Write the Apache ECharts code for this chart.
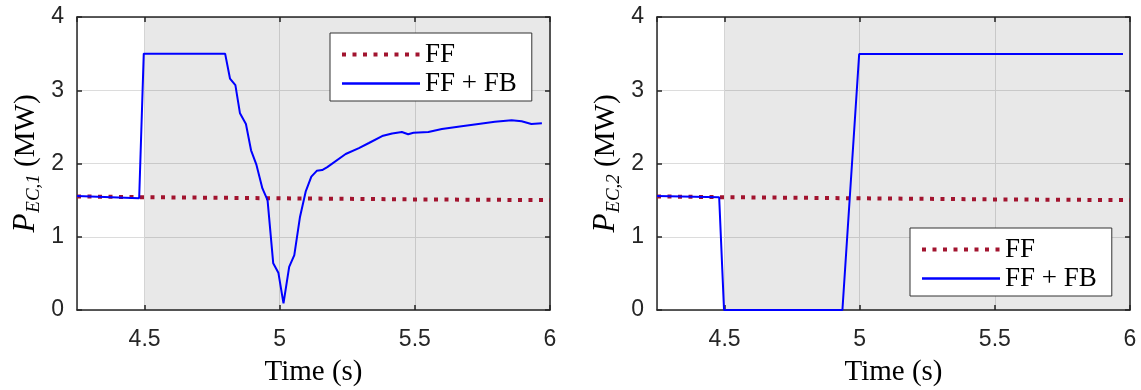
<!DOCTYPE html>
<html>
<head>
<meta charset="utf-8">
<script src="https://cdn.jsdelivr.net/npm/echarts@6/dist/echarts.min.js"></script>
<style>
html, body { margin: 0; padding: 0; background: #fff; }
#chart { width: 1141px; height: 390px; }
</style>
</head>
<body>
<div id="chart"></div>
<script>
//FF 曲线（两图相同）
var timeFF = [4.25, 4.5, 5, 5.5, 6];
var powerFF = [1.55, 1.54, 1.525, 1.51, 1.50];
//左图 FF + FB
var time1 = [4.25, 4.48, 4.497, 4.798, 4.816, 4.836, 4.853, 4.875, 4.894, 4.914, 4.936, 4.955, 4.976, 4.995, 5.014, 5.035, 5.054, 5.075, 5.096, 5.117, 5.137, 5.157, 5.176, 5.244, 5.293, 5.33, 5.379, 5.416, 5.452, 5.475, 5.495, 5.55, 5.60, 5.673, 5.735, 5.796, 5.858, 5.895, 5.931, 5.97];
var power1 = [1.555, 1.525, 3.50, 3.50, 3.16, 3.07, 2.685, 2.54, 2.18, 1.98, 1.66, 1.50, 0.637, 0.51, 0.09, 0.59, 0.75, 1.27, 1.615, 1.82, 1.90, 1.91, 1.95, 2.13, 2.21, 2.28, 2.375, 2.41, 2.43, 2.40, 2.42, 2.43, 2.47, 2.51, 2.54, 2.57, 2.59, 2.576, 2.54, 2.55];
//右图 FF + FB
var time2 = [4.25, 4.48, 4.498, 4.936, 4.998, 5.974];
var power2 = [1.555, 1.54, 0, 0, 3.495, 3.495];
//灰色区间
var shadeRange = [4.5, 6];
var legendNames = ['FF', 'FF + FB'];
var yNames = ['EC,1', 'EC,2'];

function pairs(x, y) {
	var out = [];
	for (var i = 0; i < x.length; i++) {
		out.push([x[i], y[i]]);
	}
	return out;
}

var serifFont = 'Liberation Serif';
var sansFont = 'Liberation Sans';
var axisColor = '#262626';
var ffColor = '#a2142f';
var fbColor = '#0000ff';
var ffDash = [4, 6.5];
var gridLefts = [77, 657];

var option = {
	animation: false,
	backgroundColor: '#fff',
	grid: [],
	xAxis: [],
	yAxis: [],
	legend: [],
	series: []
};

for (var k = 0; k < 2; k++) {
	option.grid.push({ left: gridLefts[k], top: 17, width: 473, height: 293, outerBoundsMode: 'none', containLabel: false });
	//下方 x 轴
	option.xAxis.push({
		type: 'value', gridIndex: k, min: 4.25, max: 6, splitNumber: 3,
		name: 'Time (s)', nameLocation: 'middle', nameGap: 48,
		nameTextStyle: { fontFamily: serifFont, fontSize: 29, color: '#000' },
		axisLine: { lineStyle: { color: axisColor, width: 1.5 } },
		axisTick: { inside: true, length: 5, lineStyle: { color: axisColor, width: 1.5 } },
		axisLabel: { showMinLabel: false, margin: 18, fontFamily: sansFont, fontSize: 23, color: axisColor },
		splitLine: { show: true, lineStyle: { color: '#dcdcdc', width: 1 } }
	});
	//上方边框
	option.xAxis.push({
		type: 'value', gridIndex: k, position: 'top', min: 4.25, max: 6, splitNumber: 3,
		axisLine: { onZero: false, lineStyle: { color: axisColor, width: 1.5 } },
		axisTick: { inside: true, length: 5, lineStyle: { color: axisColor, width: 1.5 } },
		axisLabel: { show: false },
		splitLine: { show: false }
	});
	option.yAxis.push({
		type: 'value', gridIndex: k, min: 0, max: 4, interval: 1,
		name: '{p|P}{s|' + yNames[k] + '}{u| (MW)}', nameLocation: 'middle', nameRotate: 90, nameGap: 34,
		nameTextStyle: {
			rich: {
				p: { fontFamily: serifFont, fontStyle: 'italic', fontSize: 31, color: '#000' },
				s: { fontFamily: serifFont, fontStyle: 'italic', fontSize: 19, color: '#000', padding: [15, 0, 0, 1] },
				u: { fontFamily: serifFont, fontSize: 29, color: '#000' }
			}
		},
		axisLine: { lineStyle: { color: axisColor, width: 1.5 } },
		axisTick: { inside: true, length: 5, lineStyle: { color: axisColor, width: 1.5 } },
		axisLabel: { margin: 13, fontFamily: sansFont, fontSize: 23, color: axisColor },
		splitLine: { show: true, lineStyle: { color: '#dcdcdc', width: 1 } }
	});
	//右侧边框
	option.yAxis.push({
		type: 'value', gridIndex: k, position: 'right', min: 0, max: 4, interval: 1,
		axisLine: { show: true, onZero: false, lineStyle: { color: axisColor, width: 1.5 } },
		axisTick: { show: true, inside: true, length: 5, lineStyle: { color: axisColor, width: 1.5 } },
		axisLabel: { show: false },
		splitLine: { show: false }
	});

	//灰色背景区
	option.series.push({
		type: 'line', name: 'shade' + k, xAxisIndex: 2 * k, yAxisIndex: 2 * k, z: 1,
		data: [], silent: true,
		markArea: {
			silent: true,
			itemStyle: { color: 'rgba(0,0,0,0.09)' },
			data: [[{ xAxis: shadeRange[0] }, { xAxis: shadeRange[1] }]]
		}
	});
	option.series.push({
		type: 'line', name: legendNames[0], xAxisIndex: 2 * k, yAxisIndex: 2 * k, z: 3,
		showSymbol: false, symbol: 'none',
		lineStyle: { color: ffColor, width: 4, type: ffDash },
		itemStyle: { color: ffColor },
		data: pairs(timeFF, powerFF)
	});
	option.series.push({
		type: 'line', name: legendNames[1], xAxisIndex: 2 * k, yAxisIndex: 2 * k, z: 4,
		showSymbol: false, symbol: 'none',
		lineStyle: { color: fbColor, width: 2 },
		itemStyle: { color: fbColor },
		data: pairs(k == 0 ? time1 : time2, k == 0 ? power1 : power2)
	});
}

//图例
var legendPos = [{ left: 330, top: 33 }, { left: 910, top: 228 }];
for (var k = 0; k < 2; k++) {
	option.legend.push({
		left: legendPos[k].left, top: legendPos[k].top,
		orient: 'vertical',
		data: [
			{ name: legendNames[0], itemStyle: { opacity: 0 }, lineStyle: { color: ffColor, width: 4, type: ffDash } },
			{ name: legendNames[1], itemStyle: { opacity: 0 }, lineStyle: { color: fbColor, width: 2.5 } }
		],
		itemWidth: 78, itemHeight: 14, itemGap: 2,
		padding: [8, 15, 4, 10],
		backgroundColor: '#fff', borderColor: '#333', borderWidth: 1, borderRadius: 0,
		selectedMode: false,
		textStyle: { fontFamily: serifFont, fontSize: 27, lineHeight: 27, color: '#000' }
	});
}

var myChart = echarts.init(document.getElementById('chart'));
myChart.setOption(option);
</script>
</body>
</html>
